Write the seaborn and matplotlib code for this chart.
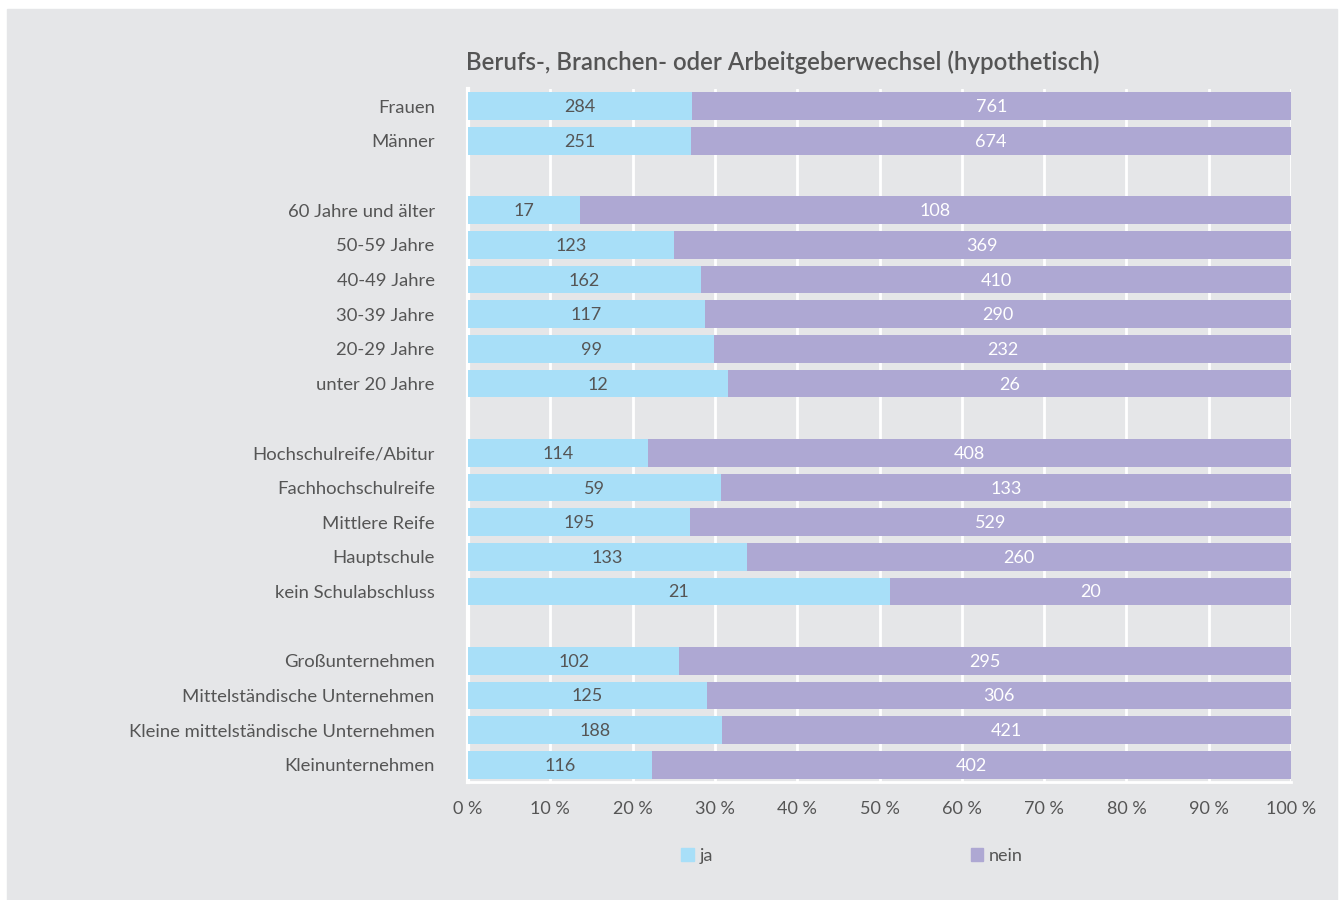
import pandas as pd
import numpy as np
import matplotlib
matplotlib.use('Agg')
import matplotlib.pyplot as plt
import matplotlib.patches as mpatches
import seaborn as sns

# data
labels = ['Frauen', 'Männer', ' ',
          '60 Jahre und älter', '50-59 Jahre', '40-49 Jahre', '30-39 Jahre', '20-29 Jahre', 'unter 20 Jahre', '  ',
          'Hochschulreife/Abitur', 'Fachhochschulreife', 'Mittlere Reife', 'Hauptschule', 'kein Schulabschluss', '   ',
          'Großunternehmen', 'Mittelständische Unternehmen', 'Kleine mittelständische Unternehmen', 'Kleinunternehmen']
ja = [284, 251, None, 17, 123, 162, 117, 99, 12, None, 114, 59, 195, 133, 21, None, 102, 125, 188, 116]
nein = [761, 674, None, 108, 369, 410, 290, 232, 26, None, 408, 133, 529, 260, 20, None, 295, 306, 421, 402]
xticks = [0, 10, 20, 30, 40, 50, 60, 70, 80, 90, 100]

blue = '#a8dff8'
purple = '#aea8d3'
bg = '#e5e6e8'
txt = '#555555'

df = pd.DataFrame({'label': labels, 'ja': ja, 'nein': nein}).dropna()
df['total'] = df['ja'] + df['nein']
df['ja_pct'] = df['ja'] / df['total'] * 100
df['all_pct'] = 100.0

sns.set_theme(style='white')
plt.rcParams['font.family'] = ['Lato', 'DejaVu Sans']

fig = plt.figure(figsize=(13.44, 9), dpi=100, facecolor='white')
fig.patches.append(mpatches.Rectangle((7 / 1344, 0), 1330 / 1344, 1 - 9 / 900,
                                      transform=fig.transFigure, color=bg, zorder=-10))
ax = fig.add_axes([468 / 1344, 1 - 782 / 900, 823 / 1344, 693 / 900])
ax.set_facecolor(bg)

sns.barplot(data=df, y='label', x='all_pct', order=labels, color=purple, saturation=1,
            width=0.8, errorbar=None, linewidth=0, ax=ax, zorder=3)
sns.barplot(data=df, y='label', x='ja_pct', order=labels, color=blue, saturation=1,
            width=0.8, errorbar=None, linewidth=0, ax=ax, zorder=3)

for i, lab in enumerate(labels):
    row = df[df['label'] == lab]
    if row.empty:
        continue
    r = row.iloc[0]
    ax.text(r['ja_pct'] / 2, i + 0.03, f"{int(r['ja'])}", ha='center', va='center',
            fontsize=13, color=txt, zorder=5)
    ax.text((r['ja_pct'] + 100) / 2, i + 0.03, f"{int(r['nein'])}", ha='center', va='center',
            fontsize=13, color='white', zorder=5)

ax.set_xlim(0, 100)
ax.set_ylim(len(labels) - 0.5, -0.5)
ax.set_xticks(xticks)
ax.set_xticklabels([f'{t} %' for t in xticks], fontsize=13, color=txt)
ax.set_yticks(range(len(labels)))
ax.set_yticklabels(labels, fontsize=13.3, color=txt)
ax.set_yticks(np.arange(-0.5, len(labels), 1), minor=True)
ax.tick_params(axis='y', which='major', length=0, pad=24)
ax.tick_params(axis='y', which='minor', length=6, width=1.5, color='white', direction='out')
ax.tick_params(axis='x', length=6, width=1.5, color='white', direction='out', pad=8)
ax.set_xlabel('')
ax.set_ylabel('')

ax.grid(axis='x', color='white', linewidth=2, zorder=0)
ax.set_axisbelow(True)
for s in ['top', 'right']:
    ax.spines[s].set_visible(False)
ax.spines['left'].set_color('white')
ax.spines['left'].set_linewidth(3)
ax.spines['bottom'].set_color('white')
ax.spines['bottom'].set_linewidth(2)

fig.text(466 / 1344, 1 - 62 / 900, 'Berufs-, Branchen- oder Arbeitgeberwechsel (hypothetisch)',
         ha='left', va='center', fontsize=17.3, color=txt, fontweight='semibold')

handles = [mpatches.Patch(color=blue, label='ja'), mpatches.Patch(color=purple, label='nein')]
fig.legend(handles=handles, loc='center', bbox_to_anchor=(852 / 1344, 1 - 856 / 900), ncol=2,
           frameon=False, fontsize=13, handlelength=0.7, handleheight=0.7, handletextpad=0.3,
           columnspacing=14.3, labelcolor=txt)

fig.savefig('out.png', dpi=100, facecolor='white')
